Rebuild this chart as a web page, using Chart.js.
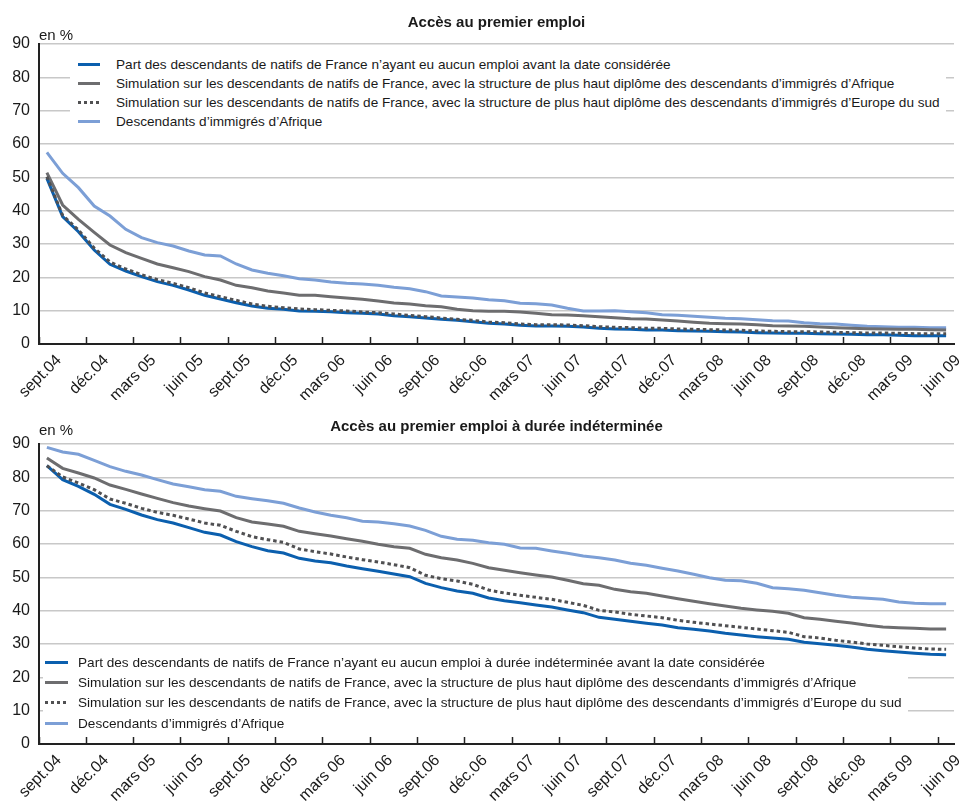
<!DOCTYPE html>
<html lang="fr">
<head>
<meta charset="utf-8">
<title>Accès au premier emploi</title>
<script src="https://cdn.jsdelivr.net/npm/chart.js@4.4.1/dist/chart.umd.min.js"></script>
<style>
  html, body { margin: 0; padding: 0; background: #fff; }
  body { width: 960px; height: 801px; position: relative; overflow: hidden;
         font-family: "Liberation Sans", Arial, sans-serif; color: #1a1a1a; }
  canvas { position: absolute; left: 0; }
  #c1 { top: 0; }
  #c2 { top: 400px; }
  .title { position: absolute; left: 39px; width: 915px; text-align: center;
           font-weight: bold; font-size: 15px; line-height: 15px; }
  .unit { position: absolute; left: 39px; font-size: 15px; line-height: 15px; }
  .legend { position: absolute; background: #fff; font-size: 13.6px; padding-right: 6px; }
  .legend .row { display: flex; align-items: center; white-space: nowrap; }
  .legend .mk { flex: none; height: 3px; }
</style>
</head>
<body>
<canvas id="c1" width="960" height="400"></canvas>
<canvas id="c2" width="960" height="401"></canvas>

<div class="title" style="top:14px">Accès au premier emploi</div>
<div class="unit" style="top:27px">en %</div>
<div class="title" style="top:418px">Accès au premier emploi à durée indéterminée</div>
<div class="unit" style="top:422px">en %</div>
<div class="legend" id="leg1" style="left:70px; top:55px"></div>
<div class="legend" id="leg2" style="left:43px; top:656px"></div>

<script>
// mois de sept.04 à juin 09 (une étiquette sur trois affichée)
const categories = [
  'sept.04', 'oct.04', 'nov.04', 'déc.04',
  'janv.05', 'févr.05', 'mars 05', 'avr.05', 'mai 05', 'juin 05', 'juil.05', 'août 05', 'sept.05', 'oct.05', 'nov.05', 'déc.05',
  'janv.06', 'févr.06', 'mars 06', 'avr.06', 'mai 06', 'juin 06', 'juil.06', 'août 06', 'sept.06', 'oct.06', 'nov.06', 'déc.06',
  'janv.07', 'févr.07', 'mars 07', 'avr.07', 'mai 07', 'juin 07', 'juil.07', 'août 07', 'sept.07', 'oct.07', 'nov.07', 'déc.07',
  'janv.08', 'févr.08', 'mars 08', 'avr.08', 'mai 08', 'juin 08', 'juil.08', 'août 08', 'sept.08', 'oct.08', 'nov.08', 'déc.08',
  'janv.09', 'févr.09', 'mars 09', 'avr.09', 'mai 09', 'juin 09'
];
const tickEvery = 3;
const yTicks = [0, 10, 20, 30, 40, 50, 60, 70, 80, 90];

// Accès au premier emploi
const emploiNatifs = [49.7, 38.2, 33.7, 28.2, 23.9, 21.9, 20.2, 18.7, 17.6, 16.2, 14.6, 13.5, 12.4, 11.4, 10.7, 10.4, 9.9, 9.8, 9.7, 9.4,
  9.2, 9.0, 8.5, 8.2, 7.8, 7.4, 7.1, 6.7, 6.2, 6.0, 5.6, 5.4, 5.4, 5.3, 5.1, 4.7, 4.5, 4.4, 4.2, 4.2,
  4.0, 3.9, 3.8, 3.7, 3.6, 3.4, 3.3, 3.2, 3.2, 3.1, 3.0, 2.9, 2.8, 2.8, 2.6, 2.5, 2.5, 2.5];
const emploiSimAfrique = [51.4, 41.7, 37.4, 33.5, 29.7, 27.4, 25.7, 24.0, 22.9, 21.7, 20.2, 19.2, 17.6, 16.9, 15.9, 15.3, 14.6, 14.6, 14.2, 13.8,
  13.4, 12.9, 12.3, 12.0, 11.5, 11.2, 10.4, 10.0, 9.8, 9.8, 9.6, 9.2, 8.8, 8.7, 8.5, 8.2, 7.9, 7.6, 7.5, 7.2,
  6.9, 6.5, 6.2, 6.1, 6.0, 5.8, 5.5, 5.4, 5.3, 5.1, 4.9, 4.7, 4.6, 4.5, 4.4, 4.4, 4.3, 4.2];
const emploiSimEurope = [50.2, 38.6, 34.2, 28.8, 24.6, 22.5, 20.8, 19.3, 18.2, 16.9, 15.3, 14.2, 13.1, 12.0, 11.3, 10.9, 10.5, 10.3, 10.1, 9.9,
  9.6, 9.4, 9.0, 8.6, 8.2, 7.8, 7.4, 7.1, 6.6, 6.4, 6.0, 5.8, 5.8, 5.7, 5.5, 5.2, 5.0, 4.9, 4.7, 4.7,
  4.5, 4.4, 4.3, 4.2, 4.1, 3.9, 3.8, 3.7, 3.7, 3.6, 3.5, 3.4, 3.3, 3.3, 3.2, 3.1, 3.1, 3.1];
const emploiAfrique = [57.5, 51.2, 46.9, 41.4, 38.4, 34.4, 31.9, 30.4, 29.4, 27.9, 26.7, 26.4, 24.0, 22.2, 21.2, 20.5, 19.6, 19.2, 18.6, 18.2,
  18.0, 17.6, 17.0, 16.6, 15.7, 14.4, 14.1, 13.8, 13.3, 13.0, 12.2, 12.1, 11.7, 10.7, 9.9, 9.9, 10.0, 9.7, 9.4, 8.8,
  8.6, 8.3, 8.0, 7.7, 7.6, 7.3, 7.0, 6.9, 6.4, 6.1, 6.0, 5.6, 5.3, 5.2, 5.0, 5.0, 4.9, 4.9];

// Accès au premier emploi à durée indéterminée
const cdiNatifs = [83.5, 79.3, 77.3, 74.9, 71.9, 70.4, 68.7, 67.3, 66.3, 64.9, 63.5, 62.7, 60.7, 59.2, 58.0, 57.3, 55.7, 54.9, 54.4, 53.4,
  52.6, 51.8, 51.0, 50.2, 48.2, 46.9, 45.9, 45.2, 43.8, 43.0, 42.4, 41.7, 41.1, 40.2, 39.4, 38.0, 37.4, 36.8, 36.2, 35.7,
  34.9, 34.4, 33.9, 33.2, 32.7, 32.2, 31.8, 31.4, 30.5, 30.1, 29.6, 29.1, 28.4, 28.0, 27.6, 27.2, 26.9, 26.8];
const cdiSimAfrique = [85.8, 82.7, 81.3, 79.8, 77.7, 76.4, 75.0, 73.7, 72.4, 71.4, 70.6, 69.9, 67.9, 66.6, 66.0, 65.3, 63.8, 63.1, 62.4, 61.6,
  60.8, 59.9, 59.2, 58.7, 56.9, 55.9, 55.2, 54.2, 52.9, 52.1, 51.4, 50.7, 50.1, 49.1, 48.1, 47.6, 46.4, 45.7, 45.2, 44.4,
  43.6, 42.8, 42.1, 41.4, 40.7, 40.2, 39.8, 39.2, 37.9, 37.4, 36.8, 36.3, 35.6, 35.1, 34.9, 34.7, 34.5, 34.5];
const cdiSimEurope = [83.5, 80.1, 78.3, 76.3, 73.5, 72.2, 70.7, 69.5, 68.6, 67.5, 66.3, 65.6, 63.8, 62.2, 61.3, 60.5, 58.5, 57.7, 57.0, 56.1,
  55.3, 54.6, 53.8, 52.9, 50.6, 49.6, 48.9, 47.9, 46.2, 45.3, 44.6, 44.0, 43.4, 42.5, 41.6, 40.1, 39.6, 38.9, 38.4, 37.9,
  37.1, 36.5, 36.0, 35.5, 35.0, 34.5, 34.0, 33.5, 32.2, 31.8, 31.1, 30.6, 30.0, 29.6, 29.2, 28.8, 28.5, 28.4];
const cdiAfrique = [89.0, 87.6, 86.9, 85.1, 83.2, 81.8, 80.7, 79.3, 78.0, 77.2, 76.3, 75.8, 74.3, 73.6, 73.0, 72.2, 70.8, 69.6, 68.6, 67.9,
  66.8, 66.6, 66.1, 65.4, 64.1, 62.3, 61.4, 61.1, 60.4, 59.9, 58.8, 58.7, 57.9, 57.2, 56.4, 55.9, 55.2, 54.2, 53.6, 52.7,
  51.9, 50.9, 49.9, 49.1, 49.0, 48.2, 46.9, 46.6, 46.1, 45.4, 44.6, 44.0, 43.7, 43.4, 42.6, 42.2, 42.1, 42.1];

const legendEmploi = [
  'Part des descendants de natifs de France n’ayant eu aucun emploi avant la date considérée',
  'Simulation sur les descendants de natifs de France, avec la structure de plus haut diplôme des descendants d’immigrés d’Afrique',
  'Simulation sur les descendants de natifs de France, avec la structure de plus haut diplôme des descendants d’immigrés d’Europe du sud',
  'Descendants d’immigrés d’Afrique'
];
const legendCdi = [
  'Part des descendants de natifs de France n’ayant eu aucun emploi à durée indéterminée avant la date considérée',
  legendEmploi[1], legendEmploi[2], legendEmploi[3]
];

const styles = [
  { color: '#0b5fae', dash: [], order: 1 },
  { color: '#6d6d6f', dash: [], order: 2 },
  { color: '#505052', dash: [3.5, 3], order: 0 },
  { color: '#7c9fd6', dash: [], order: 3 }
];

const tickFont = { family: '"Liberation Sans", Arial, sans-serif', size: 16 };

function makeChart(id, series, h) {
  return new Chart(document.getElementById(id), {
    type: 'line',
    data: {
      labels: categories,
      datasets: series.map((d, k) => ({
        data: d,
        borderColor: styles[k].color,
        borderWidth: 3,
        borderDash: styles[k].dash,
        borderCapStyle: 'butt',
        pointRadius: 0,
        tension: 0,
        fill: false,
        order: styles[k].order
      }))
    },
    options: {
      responsive: false,
      animation: false,
      devicePixelRatio: 1,
      layout: { padding: { top: 44, right: 6, left: 0, bottom: 0 } },
      plugins: { legend: { display: false }, tooltip: { enabled: false } },
      scales: {
        x: {
          type: 'category',
          offset: true,
          grid: {
            offset: true,
            drawOnChartArea: false,
            drawTicks: true,
            tickLength: -7,
            tickWidth: 1.5,
            tickColor: c => (c.index % tickEvery === 0 ? '#222' : 'rgba(0,0,0,0)')
          },
          border: { color: '#222', width: 2 },
          ticks: {
            autoSkip: false,
            minRotation: 45,
            maxRotation: 45,
            padding: 14,
            labelOffset: 12,
            color: '#1a1a1a',
            font: tickFont,
            callback: (v, i) => (i % tickEvery === 0 ? categories[i] : '')
          },
          afterFit: s => {
            s.height = h - 344;
            s.paddingLeft = 0;
            s.paddingRight = 0;
          }
        },
        y: {
          min: yTicks[0],
          max: yTicks[yTicks.length - 1],
          afterBuildTicks: s => { s.ticks = yTicks.map(v => ({ value: v })); },
          ticks: { padding: 9, color: '#1a1a1a', font: tickFont },
          grid: {
            color: c => (c.tick && c.tick.value === 0 ? 'rgba(0,0,0,0)' : '#c8c8c8'),
            lineWidth: 1.5,
            drawTicks: false
          },
          border: { color: '#222', width: 2 },
          afterFit: s => { s.width = 39; }
        }
      }
    }
  });
}

function makeLegend(id, labels, opts) {
  const box = document.getElementById(id);
  labels.forEach((txt, k) => {
    const row = document.createElement('div');
    row.className = 'row';
    row.style.height = opts.rowH + 'px';
    if (k === 0 && opts.firstShift) row.style.marginTop = opts.firstShift + 'px';
    const mk = document.createElement('span');
    mk.className = 'mk';
    mk.style.width = opts.mkW + 'px';
    mk.style.marginLeft = opts.mkLeft + 'px';
    mk.style.marginRight = opts.gap + 'px';
    const st = styles[k];
    mk.style.background = st.dash.length
      ? 'repeating-linear-gradient(90deg, ' + st.color + ' 0 3px, transparent 3px 6px)'
      : st.color;
    const t = document.createElement('span');
    t.textContent = txt;
    row.appendChild(mk);
    row.appendChild(t);
    box.appendChild(row);
  });
}

makeChart('c1', [emploiNatifs, emploiSimAfrique, emploiSimEurope, emploiAfrique], 400);
makeChart('c2', [cdiNatifs, cdiSimAfrique, cdiSimEurope, cdiAfrique], 401);
makeLegend('leg1', legendEmploi, { rowH: 19, mkW: 22, mkLeft: 8, gap: 16 });
makeLegend('leg2', legendCdi, { rowH: 20.3, mkW: 23, mkLeft: 2, gap: 10, firstShift: -4 });
</script>
</body>
</html>
